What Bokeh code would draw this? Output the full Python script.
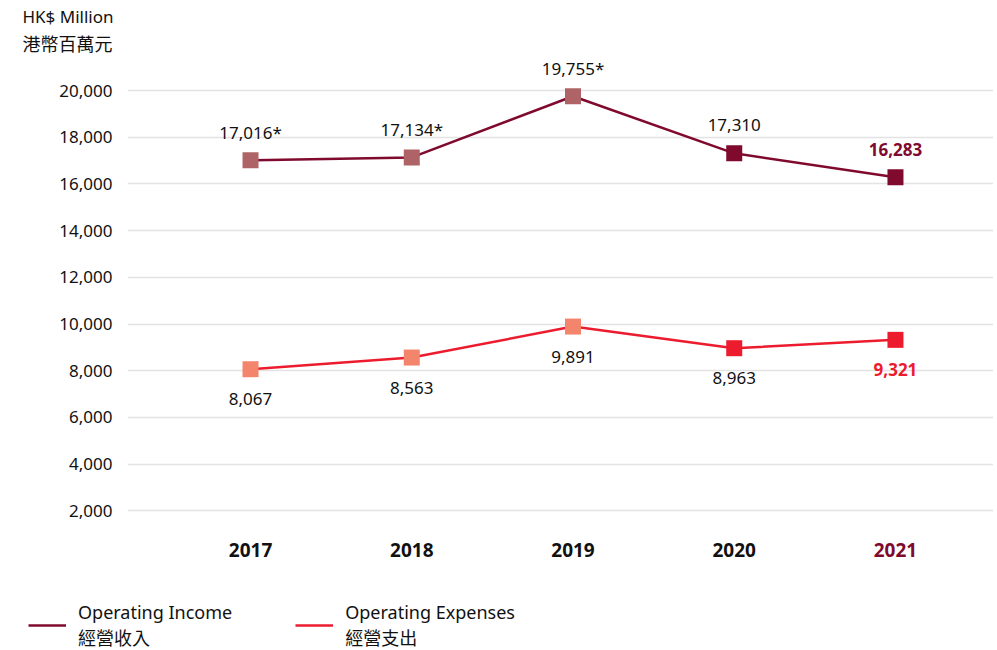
from bokeh.plotting import figure
from bokeh.layouts import column, row
from bokeh.models import (ColumnDataSource, FixedTicker, Legend, LegendItem, Title,
                          NumeralTickFormatter, Range1d)
from bokeh.core.properties import value
from bokeh.embed import file_html
from bokeh.resources import INLINE

# ---- data ----
YEARS = [2017, 2018, 2019, 2020, 2021]
INCOME = [17016, 17134, 19755, 17310, 16283]
EXPENSES = [8067, 8563, 9891, 8963, 9321]
RESTATED = [True, True, True, False, False]   # values marked with *
Y_TICKS = [2000, 4000, 6000, 8000, 10000, 12000, 14000, 16000, 18000, 20000]
UNIT_EN = "HK$ Million"
UNIT_ZH = "港幣百萬元"
SERIES_NAMES = ["Operating Income\n經營收入", "Operating Expenses\n經營支出"]

# ---- styles ----
INC_DARK, INC_LIGHT = "#800A2E", "#AE6466"
EXP_DARK, EXP_LIGHT = "#ED1B2E", "#F3856C"
FONT = "Noto Sans"
CJK = "'Noto Sans', 'Noto Sans CJK TC'"
GRID = "#E3E3E3"
INK = "#111111"
NAN = float("nan")

n = len(YEARS)
latest = [i == n - 1 for i in range(n)]
highlight = [YEARS[i] >= 2020 for i in range(n)]

inc_src = ColumnDataSource(dict(
    x=YEARS, y=INCOME,
    mcolor=[INC_DARK if h else INC_LIGHT for h in highlight],
    label=[f"{v:,}" + ("*" if r else "") for v, r in zip(INCOME, RESTATED)],
    tcolor=[INC_DARK if l else INK for l in latest],
    tstyle=["bold" if l else "normal" for l in latest],
))
exp_src = ColumnDataSource(dict(
    x=YEARS, y=EXPENSES,
    mcolor=[EXP_DARK if h else EXP_LIGHT for h in highlight],
    label=[f"{v:,}" for v in EXPENSES],
    tcolor=[EXP_DARK if l else INK for l in latest],
    tstyle=["bold" if l else "normal" for l in latest],
))
year_src = ColumnDataSource(dict(
    x=YEARS, y=[0] * n, label=[str(y) for y in YEARS],
    tcolor=[INC_DARK if l else INK for l in latest],
))

p = figure(width=993, height=585,
           x_range=Range1d(2016.237, 2021.608), y_range=Range1d(-1200, 21500),
           output_backend="svg", toolbar_location=None, x_axis_location=None,
           min_border_left=127, min_border_right=0, min_border_top=55, min_border_bottom=0)
p.outline_line_color = None
p.xgrid.visible = False

# y axis
p.yaxis.ticker = FixedTicker(ticks=Y_TICKS)
p.yaxis.formatter = NumeralTickFormatter(format="0,0")
p.yaxis.axis_line_color = None
p.yaxis.major_tick_line_color = None
p.yaxis.minor_tick_line_color = None
p.yaxis.major_label_standoff = 9
p.yaxis.major_label_text_font = FONT
p.yaxis.major_label_text_font_size = "17px"
p.yaxis.major_label_text_color = INK
p.ygrid.ticker = FixedTicker(ticks=Y_TICKS)
p.ygrid.grid_line_color = GRID
p.ygrid.grid_line_width = 1.5

# series
r_inc = p.line("x", "y", source=inc_src, line_color=INC_DARK, line_width=2.5)
r_exp = p.line("x", "y", source=exp_src, line_color=EXP_DARK, line_width=2.5)
p.scatter("x", "y", source=inc_src, marker="square", size=16, fill_color="mcolor", line_color=None)
p.scatter("x", "y", source=exp_src, marker="square", size=16, fill_color="mcolor", line_color=None)

p.text("x", "y", text="label", source=inc_src, y_offset=-28, text_align="center",
       text_baseline="middle", text_font=value(FONT), text_font_size="17px",
       text_color="tcolor", text_font_style="tstyle")
p.text("x", "y", text="label", source=exp_src, y_offset=30, text_align="center",
       text_baseline="middle", text_font=value(FONT), text_font_size="17px",
       text_color="tcolor", text_font_style="tstyle")

# year labels sitting on the zero baseline
p.text("x", "y", text="label", source=year_src, y_offset=-7, text_align="center",
       text_baseline="middle", text_font=value(FONT), text_font_size="19px",
       text_font_style="bold", text_color="tcolor")

# unit titles
p.add_layout(Title(text=UNIT_ZH, align="left", offset=-105, text_font="Noto Sans CJK TC",
                   text_font_size="18px", text_font_style="normal", text_color=INK,
                   standoff=0), "above")
p.add_layout(Title(text=UNIT_EN, align="left", offset=-105, text_font=FONT,
                   text_font_size="17px", text_font_style="normal", text_color=INK,
                   standoff=0), "above")

# legend strip (second figure holding proxies of the two series lines)
q = figure(width=993, height=65, output_backend="svg", toolbar_location=None,
           x_axis_location=None, y_axis_location=None,
           min_border_left=0, min_border_right=0, min_border_top=0, min_border_bottom=0)
q.outline_line_color = None
q.xgrid.visible = False
q.ygrid.visible = False
l_inc = q.line(x=[NAN], y=[NAN], line_color=INC_DARK, line_width=2.5)
l_exp = q.line(x=[NAN], y=[NAN], line_color=EXP_DARK, line_width=2.5)
legend = Legend(items=[LegendItem(label=SERIES_NAMES[0], renderers=[l_inc]),
                       LegendItem(label=SERIES_NAMES[1], renderers=[l_exp])],
                location=(28, 0), orientation="horizontal",
                label_text_font=CJK, label_text_font_size="18px", label_text_color=INK,
                label_text_line_height=1.0,
                glyph_width=38, glyph_height=20, label_standoff=12, spacing=63,
                padding=0, margin=0, border_line_color=None, background_fill_alpha=0)
q.add_layout(legend, "center")

open("out.html", "w").write(file_html(column(p, row(q), spacing=0), INLINE))
